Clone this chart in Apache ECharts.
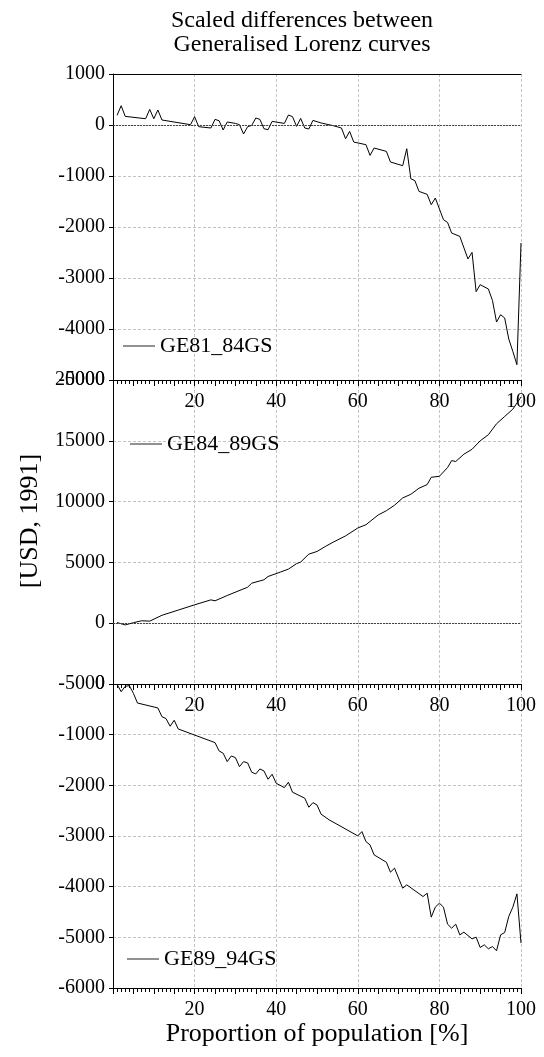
<!DOCTYPE html>
<html>
<head>
<meta charset="utf-8">
<script src="https://cdn.jsdelivr.net/npm/echarts@6/dist/echarts.min.js"></script>
<style>
html, body { margin: 0; padding: 0; background: #fff; }
#grafico { width: 544px; height: 1057px; }
</style>
</head>
<body>
<div id="grafico"></div>
<script>
// values (x = percentile of population)
var names = ['GE81_84GS', 'GE84_89GS', 'GE89_94GS'];

var ge81X = [1,2,3,8,9,10,11,12,19,20,21,24,25,26,27,28,30,31,32,33,34,35,36,37,38,39,42,43,44,45,46,47,48,49,51,54,56,57,58,59,62,63,64,67,68,71,72,73,74,75,77,78,79,81,82,83,85,87,88,89,90,92,93,94,95,96,97,98,99,100];
var ge81Y = [190,378,169,123,306,123,294,98,6,163,-33,-59,110,84,-98,59,31,6,-176,-33,-8,137,110,-73,-92,71,31,196,163,-27,129,-59,-78,90,40,-14,-59,-269,-125,-334,-386,-596,-451,-517,-725,-798,-465,-1053,-1092,-1302,-1360,-1563,-1432,-1857,-1910,-2118,-2184,-2627,-2497,-3268,-3131,-3216,-3439,-3863,-3720,-3784,-4196,-4439,-4700,-2314];

var ge84X = [1,3,5,7,9,12,16,20,24,25,28,33,34,37,38,41,43,45,46,48,50,52,54,57,60,62,65,67,69,71,73,75,77,78,80,82,83,84,86,88,90,92,94,96,98,100];
var ge84Y = [50,-140,40,200,170,650,1080,1510,1920,1840,2280,2960,3290,3570,3840,4200,4450,4900,5030,5680,5900,6300,6670,7180,7830,8100,8900,9250,9700,10300,10600,11100,11400,12000,12080,12800,13370,13300,13900,14300,15000,15500,16400,17000,17600,18600];

var ge89X = [1,2,3,4,5,6,11,12,13,14,15,16,25,26,27,28,29,30,31,32,33,34,35,36,37,38,39,40,42,43,44,47,48,49,50,51,53,60,61,62,63,64,67,68,69,71,72,76,77,78,79,80,81,82,83,84,85,86,88,89,90,91,92,93,94,95,96,97,98,99,100];
var ge89Y = [-6,-152,-45,-33,-184,-375,-473,-645,-684,-834,-716,-888,-1157,-1321,-1367,-1532,-1420,-1453,-1631,-1532,-1558,-1742,-1775,-1677,-1716,-1880,-1781,-1959,-2045,-1939,-2136,-2254,-2432,-2341,-2387,-2570,-2682,-2998,-2913,-3110,-3176,-3373,-3517,-3714,-3635,-4030,-3964,-4195,-4129,-4602,-4404,-4326,-4404,-4740,-4819,-4740,-4951,-4898,-5030,-4996,-5201,-5148,-5227,-5181,-5266,-4951,-4905,-4589,-4404,-4142,-5114];

var yMins = [-5000, -5000, -6000];
var yMaxs = [1000, 20000, 0];
var ySteps = [1000, 5000, 1000];

var font = "'Liberation Serif', 'Times New Roman', serif";
var gridColor = '#c4c4c4';

function zip(xs, ys) {
  return xs.map(function (x, i) { return [x, ys[i]]; });
}
function plain(v) { return String(v); }

var chartDom = document.getElementById('grafico');
var myChart = echarts.init(chartDom);

var grids = [
  { left: 113, right: 23, top: 74, height: 306 },
  { left: 113, right: 23, top: 380, height: 304 },
  { left: 113, right: 23, top: 684, height: 304 }
];

var xAxes = [];
var yAxes = [];
var mainX = [];
grids.forEach(function (g, i) {
  mainX.push(xAxes.length);
  xAxes.push({
    type: 'value', gridIndex: i, position: 'bottom', min: 0, max: 100, interval: 20,
    axisLine: { show: true, onZero: false, lineStyle: { color: '#000', width: 1 } },
    axisTick: { show: false },
    axisLabel: { color: '#000', fontFamily: font, fontSize: 20, margin: 12, showMinLabel: false, formatter: plain },
    splitLine: { show: true, lineStyle: { color: gridColor, type: [3, 2] } },
    name: i === 2 ? 'Proportion of population [%]' : '',
    nameLocation: 'middle', nameGap: 31,
    nameTextStyle: { color: '#000', fontFamily: font, fontSize: 26 }
  });
  // small ticks below each panel
  xAxes.push({
    type: 'value', gridIndex: i, position: 'bottom', min: 0, max: 100, interval: 5,
    axisLine: { show: false, onZero: false },
    axisTick: { show: true, length: 6, lineStyle: { color: '#000' } },
    minorTick: { show: true, splitNumber: 5, length: 4, lineStyle: { color: '#000' } },
    axisLabel: { show: false },
    splitLine: { show: false }
  });
  if (i === 0) {
    xAxes.push({
      type: 'value', gridIndex: 0, position: 'top', min: 0, max: 100,
      axisLine: { show: true, onZero: false, lineStyle: { color: '#000' } },
      axisTick: { show: false }, axisLabel: { show: false }, splitLine: { show: false }
    });
  }
  yAxes.push({
    type: 'value', gridIndex: i, min: yMins[i], max: yMaxs[i], interval: ySteps[i],
    axisLine: { show: true, onZero: false, lineStyle: { color: '#000', width: 1 } },
    axisTick: { show: true, length: 4, lineStyle: { color: '#000' } },
    axisLabel: { color: '#000', fontFamily: font, fontSize: 20, margin: 8, formatter: plain },
    splitLine: { show: true, lineStyle: { color: gridColor, type: [3, 2] } }
  });
});

var zeroLine = {
  symbol: 'none', silent: true, label: { show: false },
  lineStyle: { color: '#444', type: [2, 1], width: 1 },
  data: [{ yAxis: 0 }]
};

var seriesData = [zip(ge81X, ge81Y), zip(ge84X, ge84Y), zip(ge89X, ge89Y)];
var series = seriesData.map(function (d, i) {
  var s = {
    name: names[i], type: 'line', xAxisIndex: mainX[i], yAxisIndex: i,
    data: d, symbol: 'none',
    lineStyle: { color: '#000', width: 1 },
    itemStyle: { color: '#000' }
  };
  if (i < 2) s.markLine = zeroLine;
  return s;
});

var legendPos = [[123, 335], [130, 433], [127, 948]];
var legends = names.map(function (n, i) {
  return {
    data: [n], left: legendPos[i][0], top: legendPos[i][1], padding: 0,
    icon: 'rect', itemWidth: 32, itemHeight: 1,
    itemStyle: { color: '#222' },
    textStyle: { color: '#000', fontFamily: font, fontSize: 22 }
  };
});

var option = {
  animation: false,
  title: {
    text: 'Scaled differences between\nGeneralised Lorenz curves',
    left: 302, top: 9, textAlign: 'center', padding: 0,
    textStyle: { color: '#000', fontFamily: font, fontSize: 24, fontWeight: 'normal', lineHeight: 24 }
  },
  legend: legends,
  grid: grids,
  xAxis: xAxes,
  yAxis: yAxes,
  series: series,
  graphic: [{
    type: 'text', x: 30, y: 521, rotation: Math.PI / 2,
    style: { text: '[USD, 1991]', align: 'center', verticalAlign: 'middle', fill: '#000', font: '26px ' + font }
  }]
};

option && myChart.setOption(option);
</script>
</body>
</html>
